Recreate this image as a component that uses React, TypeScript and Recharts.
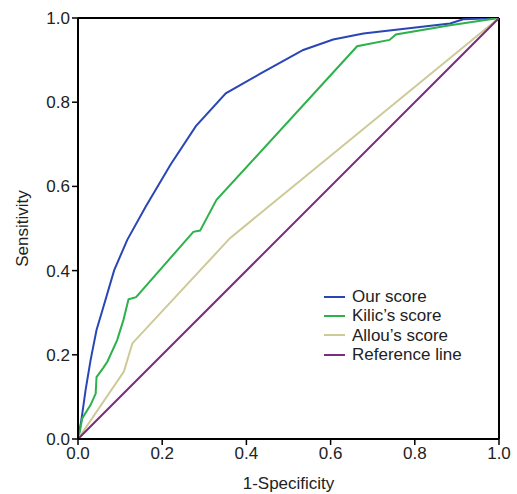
import { LineChart, Line, XAxis, YAxis, ReferenceLine } from 'recharts';

const OUR_X = [0, 0.008, 0.018, 0.03, 0.044, 0.058, 0.086, 0.117, 0.161, 0.2, 0.22, 0.28, 0.351, 0.432, 0.535, 0.606, 0.678, 0.884, 0.915, 1];
const OUR_Y = [0, 0.045, 0.116, 0.188, 0.259, 0.306, 0.401, 0.473, 0.552, 0.618, 0.652, 0.743, 0.821, 0.867, 0.924, 0.949, 0.963, 0.987, 0.997, 1];

const KILIC_X = [0, 0.005, 0.01, 0.03, 0.042, 0.044, 0.06, 0.07, 0.093, 0.108, 0.12, 0.138, 0.274, 0.29, 0.329, 0.663, 0.74, 0.755, 0.884, 1];
const KILIC_Y = [0, 0.021, 0.049, 0.081, 0.108, 0.147, 0.169, 0.184, 0.235, 0.283, 0.332, 0.337, 0.492, 0.495, 0.568, 0.933, 0.948, 0.961, 0.983, 1];

const ALLOU_X = [0, 0.109, 0.129, 0.361, 1];
const ALLOU_Y = [0, 0.16, 0.227, 0.477, 1];

const REF_X = [0, 1];
const REF_Y = [0, 1];

const TICKS = [0, 0.2, 0.4, 0.6, 0.8, 1];

const toPoints = (xs: number[], ys: number[]) => xs.map((x, i) => ({ x, y: ys[i] }));

const SERIES = [
  { name: 'Our score', color: '#2a46b4', data: toPoints(OUR_X, OUR_Y) },
  { name: "Kilic’s score", color: '#2db14a', data: toPoints(KILIC_X, KILIC_Y) },
  { name: "Allou’s score", color: '#cdca98', data: toPoints(ALLOU_X, ALLOU_Y) },
  { name: 'Reference line', color: '#7b2c7e', data: toPoints(REF_X, REF_Y) },
];

const FONT = '"Liberation Sans", Arial, sans-serif';
const fmt = (v: number) => v.toFixed(1);

function LegendBox() {
  return (
    <div style={{ position: 'absolute', left: 324, top: 287, fontFamily: FONT, fontSize: 17, color: '#222', lineHeight: '19.3px' }}>
      {SERIES.map((s) => (
        <div key={s.name} style={{ display: 'flex', alignItems: 'center' }}>
          <span style={{ display: 'inline-block', width: 21, height: 2, background: s.color, marginRight: 7 }} />
          <span>{s.name}</span>
        </div>
      ))}
    </div>
  );
}

export default function App() {
  return (
    <div style={{ position: 'absolute', left: 0, top: 0, width: 517, height: 494, background: '#fff' }}>
      <LineChart width={517} height={494} margin={{ top: 18, right: 18, left: 18, bottom: 25 }}>
        <XAxis
          type="number"
          dataKey="x"
          domain={[0, 1]}
          ticks={TICKS}
          tickFormatter={fmt}
          allowDataOverflow
          height={30}
          axisLine={{ stroke: '#000', strokeWidth: 2 }}
          tickLine={{ stroke: '#000', strokeWidth: 1.5 }}
          tickSize={6}
          tick={{ fill: '#222', fontSize: 17, fontFamily: FONT }}
          label={({ viewBox }: any) => (
            <text x={viewBox.x + viewBox.width / 2} y={489} textAnchor="middle" fill="#222" fontSize={17} fontFamily={FONT}>
              1-Specificity
            </text>
          )}
        />
        <YAxis
          type="number"
          dataKey="y"
          domain={[0, 1]}
          ticks={TICKS}
          tickFormatter={fmt}
          allowDataOverflow
          width={60}
          axisLine={{ stroke: '#000', strokeWidth: 2 }}
          tickLine={{ stroke: '#000', strokeWidth: 1.5 }}
          tickSize={6}
          tick={{ fill: '#222', fontSize: 17, fontFamily: FONT }}
          label={({ viewBox }: any) => {
            const cy = viewBox.y + viewBox.height / 2;
            return (
              <text x={28} y={cy} transform={`rotate(-90 28 ${cy})`} textAnchor="middle" fill="#222" fontSize={17} fontFamily={FONT}>
                Sensitivity
              </text>
            );
          }}
        />
        <ReferenceLine y={1} stroke="#000" strokeWidth={2} />
        <ReferenceLine x={1} stroke="#000" strokeWidth={2} />
        {SERIES.map((s) => (
          <Line
            key={s.name}
            data={s.data}
            dataKey="y"
            name={s.name}
            type="linear"
            stroke={s.color}
            strokeWidth={2}
            dot={false}
            isAnimationActive={false}
          />
        ))}
      </LineChart>
      <LegendBox />
    </div>
  );
}
